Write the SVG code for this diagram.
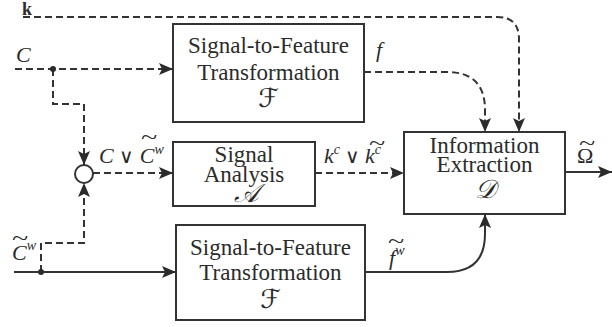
<svg xmlns="http://www.w3.org/2000/svg" width="612" height="327" viewBox="0 0 612 327">
<style>
.box{fill:#fff;stroke:#333;stroke-width:2}
.ln{fill:none;stroke:#333;stroke-width:2}
.dash{stroke-dasharray:7 4}
.t{font-family:"Liberation Serif","Times New Roman",serif;font-size:23px;fill:#2b2b2b;text-anchor:middle}
.m{font-family:"Liberation Serif","Times New Roman",serif;font-size:22px;fill:#2b2b2b;font-style:italic}
.s{font-family:"DejaVu Serif","DejaVu Sans","Noto Sans",serif;font-size:26px;fill:#2b2b2b;text-anchor:middle;font-style:italic}
.sup{font-size:14px}
.tl{font-family:"Liberation Serif",serif;font-size:20px;fill:#2b2b2b;text-anchor:middle}
</style>
<defs>
<marker id="ah" viewBox="0 0 14 12" refX="14" refY="6" markerWidth="14" markerHeight="12" markerUnits="userSpaceOnUse" orient="auto">
<path d="M0,0 L14,6 L0,12 L3,6 z" fill="#2b2b2b"/>
</marker>
</defs>

<g id="connectors">
<path class="ln dash" d="M23,17 H497 Q519,17 519,39 V132" marker-end="url(#ah)"/>
<path class="ln dash" d="M15,69 H173" marker-end="url(#ah)"/>
<path class="ln dash" d="M53,69 V104 H84 V165" marker-end="url(#ah)"/>
<path class="ln dash" d="M41,272 V243 H84 V183" marker-end="url(#ah)"/>
<path class="ln" d="M14,272 H176" marker-end="url(#ah)"/>
<path class="ln dash" d="M93,173 H173" marker-end="url(#ah)"/>
<path class="ln dash" d="M315,173 H404" marker-end="url(#ah)"/>
<path class="ln dash" d="M364,72 H447 Q485,72 485,110 V132" marker-end="url(#ah)"/>
<path class="ln" d="M365,272 H447 Q485,272 485,234 V214" marker-end="url(#ah)"/>
<path class="ln" d="M565,172 H612" marker-end="url(#ah)"/>
<circle cx="53" cy="69" r="3" fill="#2b2b2b"/>
<circle cx="41" cy="272" r="3" fill="#2b2b2b"/>
</g>

<g id="junction">
<circle cx="84" cy="174" r="9" fill="#fff" stroke="#333" stroke-width="2"/>
</g>

<g id="node-F1">
<rect class="box" x="173" y="24" width="191" height="98"/>
<text class="t" x="268.5" y="53">Signal-to-Feature</text>
<text class="t" x="268.5" y="80">Transformation</text>
<text class="s" x="268.5" y="107">ℱ</text>
</g>

<g id="node-A">
<rect class="box" x="173" y="142" width="142" height="64"/>
<text class="t" x="244" y="162">Signal</text>
<text class="t" x="244" y="182">Analysis</text>
<text class="s" x="246" y="202">𝒜</text>
</g>

<g id="node-F2">
<rect class="box" x="176" y="225" width="189" height="95"/>
<text class="t" x="270.5" y="255">Signal-to-Feature</text>
<text class="t" x="270.5" y="280">Transformation</text>
<text class="s" x="270.5" y="308">ℱ</text>
</g>

<g id="node-D">
<rect class="box" x="404" y="132" width="161" height="82"/>
<text class="t" x="484.5" y="153">Information</text>
<text class="t" x="484.5" y="172">Extraction</text>
<text class="s" x="485.5" y="198">𝒟</text>
</g>

<g id="labels">
<text x="22" y="15" font-family="Liberation Serif,serif" font-weight="bold" font-size="18" fill="#2b2b2b">k</text>
<text class="m" x="16" y="62">C</text>
<text class="m" x="376" y="57">f</text>
<text class="m" x="99" y="163">C <tspan font-style="normal" font-size="20">∨</tspan> C<tspan class="sup" dy="-9">w</tspan></text>
<text class="tl" transform="translate(149,144) scale(1.5,1)">~</text>
<text class="m" x="324" y="163">k<tspan class="sup" dy="-9">c</tspan><tspan dy="9" font-style="normal" font-size="20"> ∨ </tspan>k<tspan class="sup" dy="-9">c</tspan></text>
<text class="tl" transform="translate(377,150) scale(1.5,1)">~</text>
<text class="m" x="389" y="265">f<tspan class="sup" dy="-10">w</tspan></text>
<text class="tl" transform="translate(396,248) scale(1.5,1)">~</text>
<text class="m" x="12" y="260">C<tspan class="sup" dy="-10">w</tspan></text>
<text class="tl" transform="translate(20,244.5) scale(1.5,1)">~</text>
<text x="577" y="163" font-family="Liberation Serif,serif" font-size="22" fill="#2b2b2b">Ω</text>
<text class="tl" transform="translate(587,149.5) scale(1.5,1)">~</text>
</g>
</svg>
